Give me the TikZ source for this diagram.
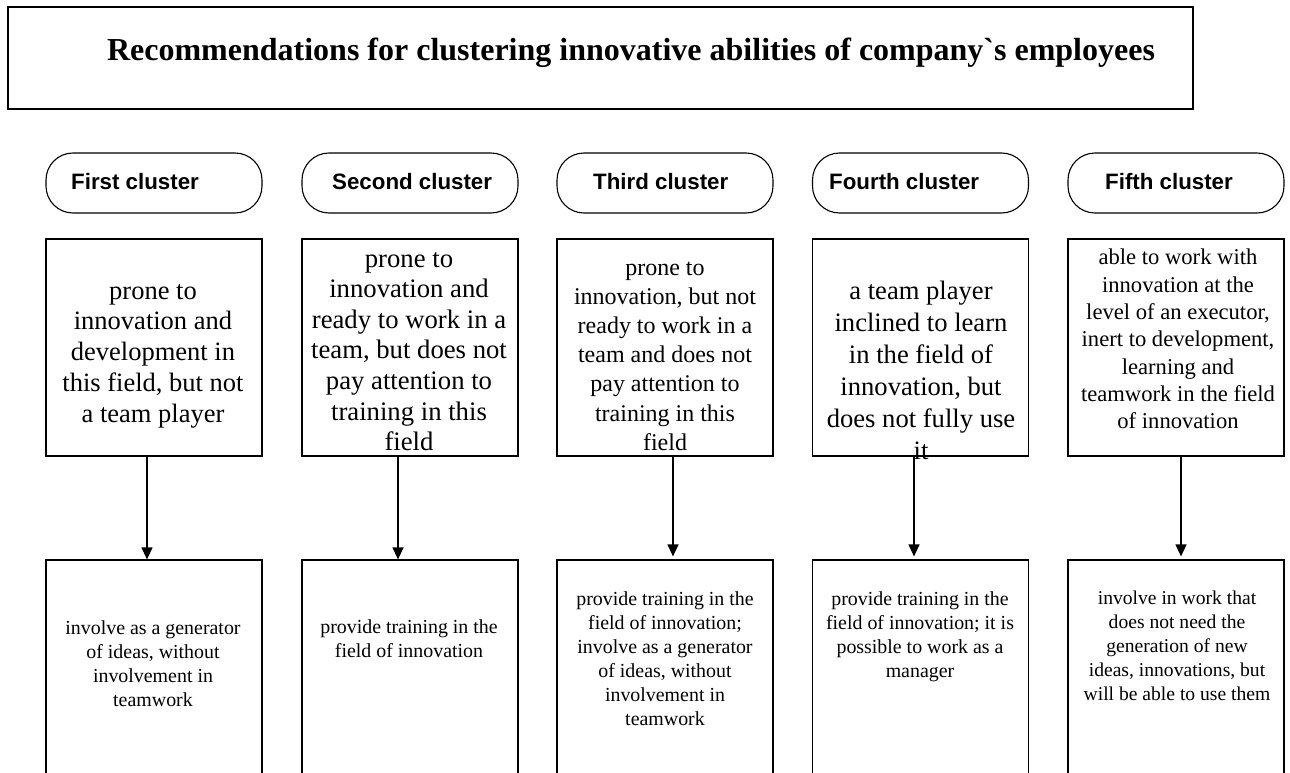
\documentclass[tikz,border=0pt]{standalone}
\usepackage{fontspec}
\setmainfont{Liberation Serif}[Ligatures=TeXOff]
\newfontfamily\headfont{Liberation Sans}
\usetikzlibrary{arrows.meta, positioning}

\begin{document}
\begin{tikzpicture}[x=1pt, y=-1pt,
    titlebox/.style={rectangle, draw=black, line width=1.2pt, minimum width=1185pt, minimum height=102pt},
    pill/.style={rectangle, rounded corners=27pt, draw=black, line width=1.1pt, minimum width=216pt, minimum height=60pt},
    pilltext/.style={anchor=west, inner sep=0pt, font=\headfont\bfseries\fontsize{22.3}{26}\selectfont},
    midbox/.style={rectangle, draw=black, line width=1.2pt, minimum width=216pt, minimum height=217pt},
    lowbox/.style={rectangle, draw=black, line width=1.2pt, minimum width=216pt, minimum height=250pt},
    boxtext/.style n args={2}{align=center, inner sep=0pt, font=\fontsize{#1}{#2}\selectfont},
    arrow/.style={-{Triangle[length=12pt, width=11pt]}, line width=1.2pt}
]
\useasboundingbox (0,0) rectangle (1290,773);
\clip (0,0) rectangle (1290,773);

% Title
\node[titlebox] (title) at (600.5,58) {};
\node[font=\bfseries\fontsize{32}{38}\selectfont] (titletext) at (631,53) {Recommendations for clustering innovative abilities of company`s employees};

% Cluster headers
\node[pill] (c1) at (154,183) {};
\node[pill] (c2) at (410,183) {};
\node[pill] (c3) at (665,183) {};
\node[pill] (c4) at (920.5,183) {};
\node[pill] (c5) at (1176,183) {};
\node[pilltext] (h1) at (71,182) {First cluster};
\node[pilltext] (h2) at (332,182) {Second cluster};
\node[pilltext] (h3) at (593,182) {Third cluster};
\node[pilltext] (h4) at (829,182) {Fourth cluster};
\node[pilltext] (h5) at (1105,182) {Fifth cluster};

% Characteristics
\node[midbox] (m1) at (154,347.5) {};
\node[midbox] (m2) at (410,347.5) {};
\node[midbox] (m3) at (665,347.5) {};
\node[midbox] (m4) at (920.5,347.5) {};
\node[midbox] (m5) at (1176,347.5) {};
\node[boxtext={26.5}{30.8}] (mt1) at (153,356) {prone to\\innovation and\\development in\\this field, but not\\a team player};
\node[boxtext={26.7}{30.6}] (mt2) at (409,351.5) {prone to\\innovation and\\ready to work in a\\team, but does not\\pay attention to\\training in this\\field};
\node[boxtext={24}{29.2}] (mt3) at (665,356) {prone to\\innovation, but not\\ready to work in a\\team and does not\\pay attention to\\training in this\\field};
\node[boxtext={26.6}{32}] (mt4) at (921,370) {a team player\\inclined to learn\\in the field of\\innovation, but\\does not fully use\\it};
\node[boxtext={22.6}{27.3}] (mt5) at (1178,339) {able to work with\\innovation at the\\level of an executor,\\inert to development,\\learning and\\teamwork in the field\\of innovation};

% Recommendations
\node[lowbox] (b1) at (154,685) {};
\node[lowbox] (b2) at (410,685) {};
\node[lowbox] (b3) at (665,685) {};
\node[lowbox] (b4) at (920.5,685) {};
\node[lowbox] (b5) at (1176,685) {};
\node[boxtext={19.9}{24}] (bt1) at (153,663.5) {involve as a generator\\of ideas, without\\involvement in\\teamwork};
\node[boxtext={19.9}{24}] (bt2) at (409,639) {provide training in the\\field of innovation};
\node[boxtext={19.9}{24}] (bt3) at (665,658.5) {provide training in the\\field of innovation;\\involve as a generator\\of ideas, without\\involvement in\\teamwork};
\node[boxtext={19.9}{24}] (bt4) at (920,636.5) {provide training in the\\field of innovation; it is\\possible to work as a\\manager};
\node[boxtext={19.6}{24}] (bt5) at (1177,646) {involve in work that\\does not need the\\generation of new\\ideas, innovations, but\\will be able to use them};

% Arrows
\draw[arrow] ([xshift=-7pt]m1.south) -- ([xshift=-7pt]b1.north);
\draw[arrow] ([xshift=-12pt]m2.south) -- ([xshift=-12pt]b2.north);
\draw[arrow, shorten >=3pt] ([xshift=8pt]m3.south) -- ([xshift=8pt]b3.north);
\draw[arrow, shorten >=3pt] ([xshift=-6.5pt]m4.south) -- ([xshift=-6.5pt]b4.north);
\draw[arrow, shorten >=3pt] ([xshift=5pt]m5.south) -- ([xshift=5pt]b5.north);

\end{tikzpicture}
\end{document}
